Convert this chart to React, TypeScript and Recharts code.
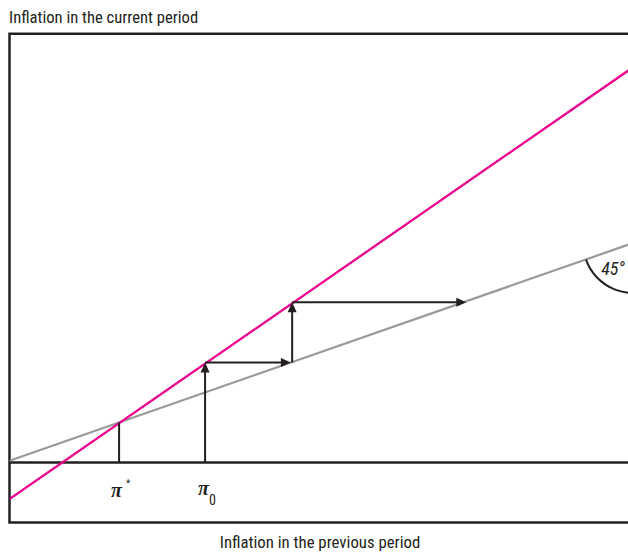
import { ComposedChart, Line, XAxis, YAxis, ReferenceLine, ReferenceArea, ReferenceDot } from "recharts";

// previous-period inflation (x) at the two ends of each schedule
const prevInflation = [0, 29.4];
const magentaCurrent = [-1.71, 18.66];
const grayCurrent = [0.08, 10.35];

// equilibrium and starting point
const piStar = 5.11;
const piStarLevel = 1.87;
const pi0 = 9.12;

// adjustment arrows (from -> to)
const arrowFromX = [9.12, 9.12, 13.18, 13.18];
const arrowFromY = [0, 4.66, 4.66, 7.47];
const arrowToX = [9.12, 13.12, 13.18, 21.3];
const arrowToY = [4.66, 4.66, 7.47, 7.47];

// 45° angle mark sits on the grey line near the right edge
const angleX = 29.08;
const angleY = 10.24;

const INK = "#231f20";
const FONT = "Roboto, 'DejaVu Sans Condensed', sans-serif";
const SERIF = "'Liberation Serif', 'DejaVu Serif', serif";

const magentaData = prevInflation.map((x, i) => ({ x, y: magentaCurrent[i] }));
const grayData = prevInflation.map((x, i) => ({ x, y: grayCurrent[i] }));
const arrows = arrowFromX.map((x, i) => ({
  from: { x, y: arrowFromY[i] },
  to: { x: arrowToX[i], y: arrowToY[i] },
}));

function Arrow(p: any) {
  const { x1, y1, x2, y2 } = p;
  const dx = x2 - x1, dy = y2 - y1;
  const len = Math.sqrt(dx * dx + dy * dy) || 1;
  const ux = dx / len, uy = dy / len;
  const head = 10, half = 4.5;
  const bx = x2 - ux * head, by = y2 - uy * head;
  const pts = `${x2},${y2} ${bx - uy * half},${by + ux * half} ${bx + uy * half},${by - ux * half}`;
  return (
    <g>
      <line x1={x1} y1={y1} x2={x2 - ux * 5} y2={y2 - uy * 5} stroke={INK} strokeWidth={2} />
      <polygon points={pts} fill={INK} />
    </g>
  );
}

function AngleMark(p: any) {
  const { cx, cy } = p;
  const r = 50;
  const a0 = (160.5 * Math.PI) / 180, a1 = (60 * Math.PI) / 180;
  const d = `M${cx + r * Math.cos(a0)},${cy + r * Math.sin(a0)} A${r},${r} 0 0 0 ${cx + r * Math.cos(a1)},${cy + r * Math.sin(a1)}`;
  return (
    <g>
      <path d={d} fill="none" stroke={INK} strokeWidth={2} />
      <text x={cx - 32} y={cy + 32} fontFamily={FONT} fontStretch="condensed" fontStyle="italic" fontSize={18} fill={INK}>45°</text>
    </g>
  );
}

function PiStarLabel(p: any) {
  const { cx, cy } = p;
  return (
    <text x={cx - 8} y={cy + 34.6} fill={INK}>
      <tspan fontFamily={SERIF} fontStyle="italic" fontWeight="bold" fontSize={20}>π</tspan>
      <tspan fontFamily={FONT} fontSize={10} dx={4} dy={-10}>*</tspan>
    </text>
  );
}

function PiZeroLabel(p: any) {
  const { cx, cy } = p;
  return (
    <text x={cx - 7} y={cy + 33} fill={INK}>
      <tspan fontFamily={SERIF} fontStyle="italic" fontWeight="bold" fontSize={20}>π</tspan>
      <tspan fontFamily={FONT} fontStretch="condensed" fontSize={14} dx={0} dy={10}>0</tspan>
    </text>
  );
}

export default function App() {
  return (
    <div style={{ position: "fixed", left: 0, top: 0, width: 628, height: 552, overflow: "hidden", background: "#fff", fontFamily: FONT, fontStretch: "condensed", color: INK }}>
      <div style={{ position: "absolute", left: 9, top: 9, fontSize: 16.6, lineHeight: "18px", whiteSpace: "nowrap" }}>
        Inflation in the current period
      </div>
      <div style={{ position: "absolute", left: 0, width: 640, top: 533, fontSize: 16.8, lineHeight: "18px", textAlign: "center", whiteSpace: "nowrap" }}>
        Inflation in the previous period
      </div>
      <div style={{ position: "absolute", left: 8, top: 8 }}>
        <ComposedChart width={660} height={544} margin={{ top: 25.7, left: 1.5, right: 28, bottom: 29.5 }}>
          <XAxis type="number" dataKey="x" domain={[0, 29.4]} hide allowDataOverflow />
          <YAxis type="number" domain={[-2.8, 20]} hide allowDataOverflow />
          <ReferenceArea x1={0} x2={29.4} y1={-2.8} y2={20} fill="none" stroke={INK} strokeWidth={2.5} fillOpacity={0} strokeOpacity={1} ifOverflow="visible" />
          <ReferenceLine y={0} stroke={INK} strokeWidth={2.5} />
          <Line data={grayData} dataKey="y" stroke="#9a9a9a" strokeWidth={2.2} dot={false} isAnimationActive={false} />
          <Line data={magentaData} dataKey="y" stroke="#ec008c" strokeWidth={2.3} dot={false} isAnimationActive={false} />
          <ReferenceLine segment={[{ x: piStar, y: 0 }, { x: piStar, y: piStarLevel }]} stroke={INK} strokeWidth={2} />
          {arrows.map((a, i) => (
            <ReferenceLine key={i} segment={[a.from, a.to]} shape={Arrow} />
          ))}
          <ReferenceDot x={piStar} y={0} shape={PiStarLabel} />
          <ReferenceDot x={pi0} y={0} shape={PiZeroLabel} />
          <ReferenceDot x={angleX} y={angleY} shape={AngleMark} />
        </ComposedChart>
      </div>
    </div>
  );
}
